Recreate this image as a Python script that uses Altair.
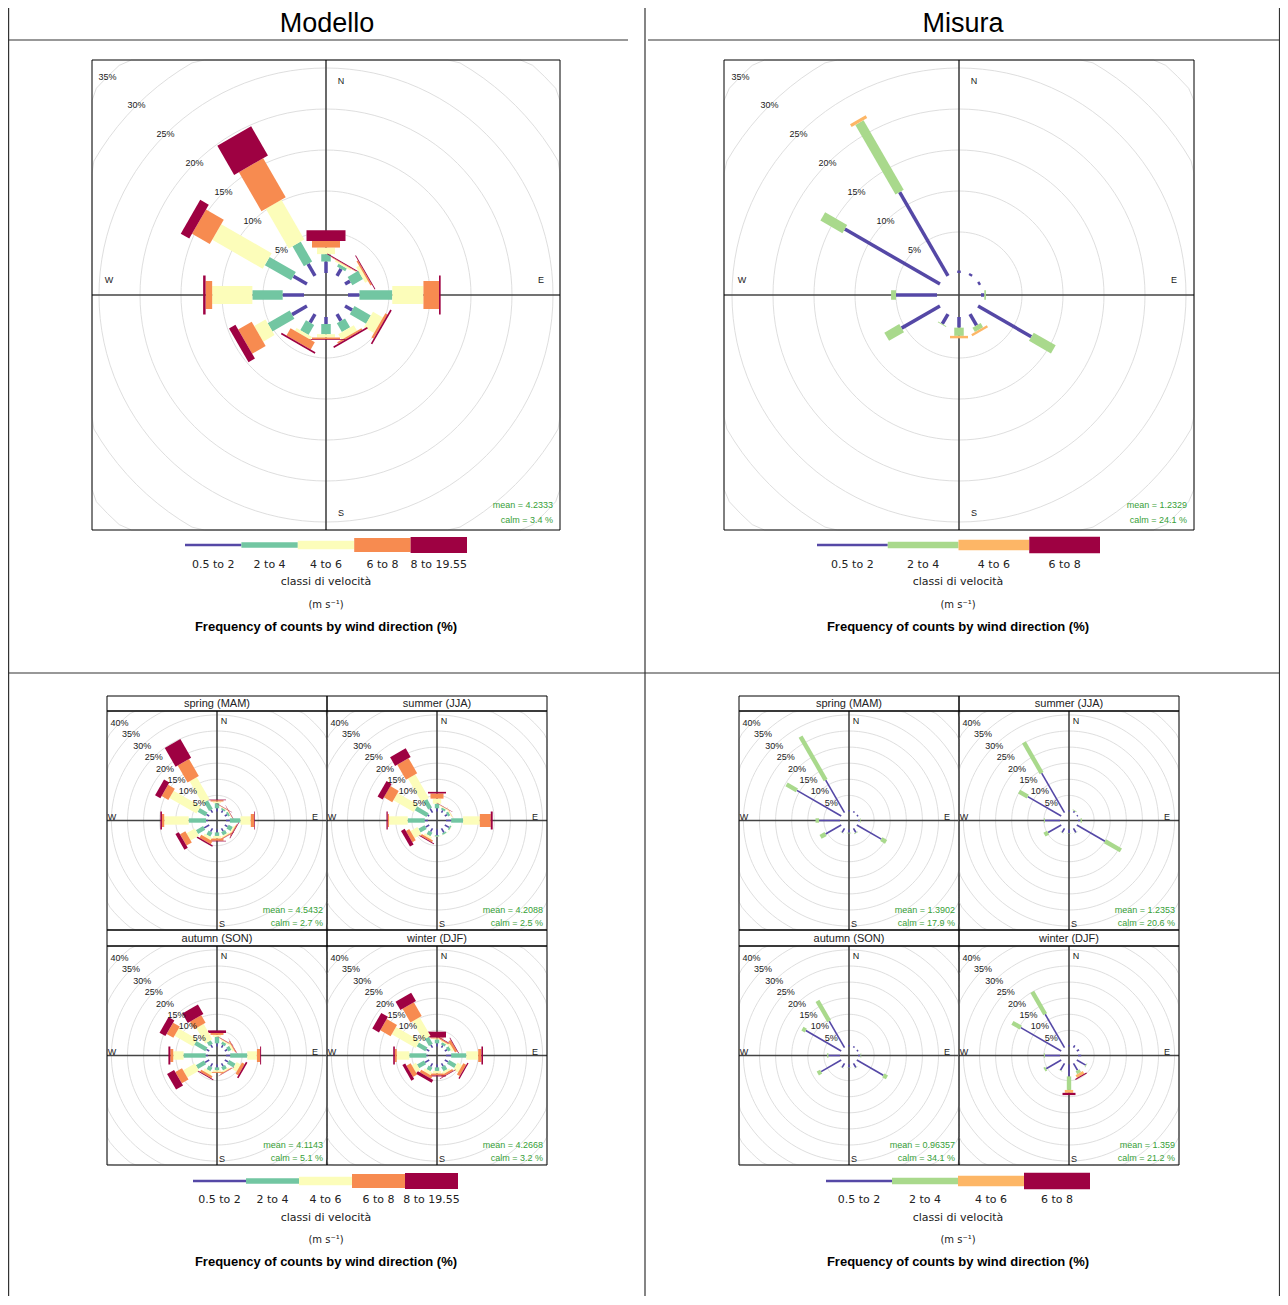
import altair as alt
import pandas as pd

M = 8  # page margin: the chart origin sits at page pixel (8, 8)
FONT = "Liberation Sans"
LFONT = "DejaVu Sans"

# ---------------- data ----------------
DIRS = [0, 30, 60, 90, 120, 150, 180, 210, 240, 270, 300, 330]
MOD_CLASSES = ["0.5 to 2", "2 to 4", "4 to 6", "6 to 8", "8 to 19.55"]
MIS_CLASSES = ["0.5 to 2", "2 to 4", "4 to 6", "6 to 8"]
MOD_COLORS = ["#5548A6", "#72C6A2", "#FCFDBA", "#F78B50", "#9E0142"]
MIS_COLORS = ["#5548A6", "#A9D98C", "#FDB666", "#9E0142"]
SEASONS = ["spring (MAM)", "summer (JJA)", "autumn (SON)", "winter (DJF)"]

# cumulative frequency (%) at the top of each speed class, one row per direction in DIRS
MOD_YEAR = [
    [1.4, 2.3, 3.1, 3.9, 5.2], [1.0, 1.4, 1.6, 1.7, 1.8], [0.7, 2.2, 2.6, 2.8, 2.9],
    [1.4, 5.4, 9.2, 11.1, 11.3], [1.0, 3.3, 4.7, 5.0, 5.2], [0.96, 2.2, 3.0, 3.2, 3.4],
    [0.85, 2.1, 2.5, 2.7, 2.8], [1.2, 2.6, 3.0, 4.0, 4.2], [2.1, 5.2, 6.8, 8.7, 9.6],
    [2.6, 6.3, 11.2, 12.0, 12.3], [1.9, 5.6, 12.7, 15.2, 16.4], [1.7, 4.5, 10.1, 15.6, 19.7],
]
MIS_YEAR = [
    [0.3, 0.3, 0.3, 0.3], [0.3, 0.3, 0.3, 0.3], [0.3, 0.3, 0.3, 0.3],
    [0.4, 0.6, 0.6, 0.6], [7.5, 10.6, 10.6, 10.6], [1.6, 2.2, 2.5, 2.5],
    [1.3, 2.3, 2.6, 2.6], [1.4, 1.5, 1.5, 1.5], [5.4, 7.5, 7.5, 7.5],
    [5.0, 5.6, 5.6, 5.6], [13.4, 16.5, 16.5, 16.5], [11.8, 21.6, 22.0, 22.0],
]
MOD_SPRING = [
    [1.0, 2.6, 3.1, 3.5, 3.7], [0.8, 1.4, 1.6, 1.7, 1.8], [0.8, 1.5, 1.7, 1.8, 1.9],
    [1.2, 4.5, 7.7, 8.8, 9.0], [1.0, 2.5, 3.0, 3.3, 3.5], [1.0, 2.2, 2.7, 2.9, 3.0],
    [0.9, 2.0, 2.8, 3.5, 3.7], [1.2, 2.6, 3.5, 4.6, 5.0], [1.8, 4.4, 7.4, 9.3, 10.5],
    [0.6, 6.0, 13.6, 14.3, 14.8], [1.0, 3.8, 13.5, 15.9, 17.8], [1.0, 4.1, 12.0, 18.1, 24.8],
]
MOD_SUMMER = [
    [1.0, 2.4, 4.0, 5.6, 6.1], [0.8, 1.5, 1.8, 1.9, 2.0], [0.8, 1.6, 1.9, 2.0, 2.0],
    [1.6, 5.3, 10.5, 13.9, 14.5], [1.5, 2.0, 2.1, 2.1, 2.1], [1.5, 2.0, 2.1, 2.1, 2.1],
    [1.8, 2.2, 2.3, 2.3, 2.3], [1.2, 2.5, 3.2, 3.8, 4.1], [1.3, 3.5, 6.0, 7.2, 8.5],
    [1.0, 6.3, 12.1, 12.5, 12.9], [0.6, 4.8, 12.1, 15.1, 16.9], [1.5, 4.5, 13.0, 18.4, 21.5],
]
MOD_AUTUMN = [
    [1.0, 3.0, 3.6, 4.2, 5.0], [0.9, 1.8, 2.2, 2.4, 2.5], [0.9, 2.0, 2.6, 2.9, 3.0],
    [1.3, 6.6, 9.6, 10.6, 10.9], [1.2, 3.5, 5.0, 6.0, 6.5], [1.0, 2.2, 2.7, 2.9, 3.0],
    [0.9, 1.8, 2.3, 2.6, 2.6], [1.2, 2.5, 3.5, 4.2, 4.5], [1.5, 4.4, 8.6, 11.0, 13.5],
    [0.7, 7.6, 10.8, 11.7, 12.3], [1.0, 5.0, 11.7, 14.1, 16.2], [1.0, 2.3, 7.8, 10.5, 13.9],
]
MOD_WINTER = [
    [1.0, 2.2, 2.5, 2.8, 4.6], [0.8, 1.6, 2.0, 2.3, 2.5], [0.8, 1.8, 2.5, 3.3, 3.5],
    [1.6, 6.3, 10.0, 11.0, 11.5], [1.2, 3.8, 5.5, 6.5, 6.9], [1.0, 2.5, 3.2, 3.8, 4.0],
    [0.9, 2.0, 2.8, 3.4, 3.7], [1.2, 2.5, 3.5, 4.4, 5.4], [1.5, 4.0, 5.5, 7.0, 8.0],
    [0.5, 5.8, 9.7, 10.3, 10.8], [1.0, 4.1, 12.7, 16.4, 18.8], [1.0, 3.5, 10.2, 15.1, 18.1],
]
MIS_SPRING = [
    [0.5, 0.5, 0.5, 0.5], [0.5, 0.5, 0.5, 0.5], [0.5, 0.5, 0.5, 0.5],
    [0.6, 0.8, 0.8, 0.8], [8.8, 10.5, 10.5, 10.5], [1.5, 1.7, 1.7, 1.7],
    [1.0, 1.2, 1.2, 1.2], [1.5, 1.6, 1.6, 1.6], [5.6, 7.4, 7.4, 7.4],
    [6.5, 7.6, 7.6, 7.6], [15.9, 19.6, 19.6, 19.6], [11.7, 27.3, 27.3, 27.3],
]
MIS_SUMMER = [
    [0.4, 0.4, 0.4, 0.4], [0.6, 0.8, 0.8, 0.8], [0.4, 0.4, 0.4, 0.4],
    [0.8, 1.2, 1.2, 1.2], [10.1, 15.8, 15.8, 15.8], [1.5, 1.6, 1.6, 1.6],
    [1.2, 1.3, 1.3, 1.3], [1.5, 1.6, 1.6, 1.6], [4.7, 6.0, 6.0, 6.0],
    [4.7, 5.0, 5.0, 5.0], [12.0, 15.1, 15.1, 15.1], [14.2, 25.2, 25.2, 25.2],
]
MIS_AUTUMN = [
    [0.5, 0.5, 0.5, 0.5], [0.5, 0.5, 0.5, 0.5], [0.5, 0.5, 0.5, 0.5],
    [0.8, 1.0, 1.0, 1.0], [9.5, 10.8, 10.8, 10.8], [1.5, 1.6, 1.6, 1.6],
    [1.0, 1.1, 1.1, 1.1], [1.5, 1.6, 1.6, 1.6], [7.2, 8.4, 8.4, 8.4],
    [3.6, 4.0, 4.0, 4.0], [12.7, 13.9, 13.9, 13.9], [9.5, 16.8, 16.8, 16.8],
]
MIS_WINTER = [
    [0.5, 0.5, 0.5, 0.5], [0.8, 0.8, 0.8, 0.8], [0.8, 0.8, 0.8, 0.8],
    [1.0, 1.0, 1.0, 1.0], [3.2, 3.4, 3.4, 3.4], [2.5, 3.5, 4.5, 4.8],
    [3.7, 7.9, 8.8, 9.5], [2.5, 2.6, 2.6, 2.6], [5.4, 6.0, 6.0, 6.0],
    [4.7, 5.0, 5.0, 5.0], [14.5, 17.5, 17.5, 17.5], [12.0, 20.0, 20.0, 20.0],
]
MOD_MEAN = ["4.2333", "4.5432", "4.2088", "4.1143", "4.2668"]
MOD_CALM = ["3.4", "2.7", "2.5", "5.1", "3.2"]
MIS_MEAN = ["1.2329", "1.3902", "1.2353", "0.96357", "1.359"]
MIS_CALM = ["24.1", "17.9", "20.6", "34.1", "21.2"]

# ---------------- styles ----------------
W_BIG = [3.5, 9.5, 18, 28, 39]
W_SMALL = [1.6, 4.4, 8.4, 13, 18]
LEG_MOD = [2.5, 5.5, 8.5, 14, 16]
LEG_MIS = [2.5, 6.5, 10.5, 16.5]
RINGS_BIG = [5, 10, 15, 20, 25, 30, 35]
RINGS_SMALL = [5, 10, 15, 20, 25, 30, 35, 40, 45]
LAB_BIG = [5, 10, 15, 20, 25, 30, 35]
LAB_SMALL = [5, 10, 15, 20, 25, 30, 35, 40]


def one(**kw):
    return pd.DataFrame([kw])


def txt(s, x, y, size=11, bold=False, color="black", align="center", font=FONT):
    return alt.Chart(one(t=s)).mark_text(
        fontSize=size, fontWeight="bold" if bold else "normal", color=color,
        align=align, baseline="middle", font=font
    ).encode(x=alt.value(x - M), y=alt.value(y - M), text="t:N")


def width_scale(widths):
    # piecewise-linear map from class index to stroke width
    return alt.Scale(domain=list(range(len(widths))), range=widths, zero=False, nice=False)


def rose(cum, classes, colors, widths, box, k, off_px, rings, labs, nsew, mean, calm, st, axw):
    x0, x1, y0, y1 = box
    hw = (x1 - x0) / 2 / k
    hh = (y1 - y0) / 2 / k
    off = off_px / k
    xs = alt.Scale(domain=[-hw, hw], range=[x0 - M, x1 - M], clamp=True, nice=False, zero=False)
    ys = alt.Scale(domain=[-hh, hh], range=[y1 - M, y0 - M], clamp=True, nice=False, zero=False)

    def X(f):
        return alt.X(f, scale=xs, axis=None)

    def Y(f):
        return alt.Y(f, scale=ys, axis=None)

    ring_df = pd.DataFrame([{"p": p, "a": a} for p in rings for a in range(0, 361, 3)])
    ring_layer = alt.Chart(ring_df).transform_calculate(
        rx=f"({off}+datum.p)*sin(datum.a*PI/180)",
        ry=f"({off}+datum.p)*cos(datum.a*PI/180)",
    ).mark_line(color="#DADADA", strokeWidth=0.9).encode(
        x=X("rx:Q"), y=Y("ry:Q"), detail="p:N", order="a:Q")

    cross_df = pd.DataFrame({"xa": [-hw, 0], "ya": [0, -hh], "xb": [hw, 0], "yb": [0, hh]})
    cross = alt.Chart(cross_df).mark_rule(color="#444444", strokeWidth=axw).encode(
        x=X("xa:Q"), y=Y("ya:Q"), x2="xb:Q", y2="yb:Q")

    rows = []
    for d, c in zip(DIRS, cum):
        prev = 0.0
        for ci, (cls, v) in enumerate(zip(classes, c)):
            if v > prev:
                rows.append({"dir": d, "cls": cls, "ci": ci, "lo": prev, "hi": v})
                prev = v
    paddles = alt.Chart(pd.DataFrame(rows)).transform_calculate(
        xa=f"({off}+datum.lo)*sin(datum.dir*PI/180)",
        ya=f"({off}+datum.lo)*cos(datum.dir*PI/180)",
        xb=f"({off}+datum.hi)*sin(datum.dir*PI/180)",
        yb=f"({off}+datum.hi)*cos(datum.dir*PI/180)",
    ).mark_rule(strokeCap="butt").encode(
        x=X("xa:Q"), y=Y("ya:Q"), x2="xb:Q", y2="yb:Q",
        color=alt.Color("cls:N", scale=alt.Scale(domain=classes, range=colors), legend=None),
        strokeWidth=alt.StrokeWidth("ci:Q", scale=width_scale(widths), legend=None),
    )

    lab_df = pd.DataFrame({"p": labs, "t": [f"{p}%" for p in labs]})
    ring_labels = alt.Chart(lab_df).transform_calculate(
        lx=f"-({off}+datum.p)*0.7071", ly=f"({off}+datum.p)*0.7071"
    ).mark_text(fontSize=9, font=FONT, color="#1A1A1A").encode(
        x=X("lx:Q"), y=Y("ly:Q"), text="t:N")

    nsew_df = pd.DataFrame({"t": ["N", "E", "S", "W"],
                            "nx": [v[0] / k for v in nsew], "ny": [v[1] / k for v in nsew]})
    compass = alt.Chart(nsew_df).mark_text(fontSize=9, font=FONT, color="#1A1A1A").encode(
        x=X("nx:Q"), y=Y("ny:Q"), text="t:N")

    green = "#37A037"
    s1 = txt(f"mean = {mean}", x1 - st[0], y1 - st[1], size=9, color=green, align="right")
    s2 = txt(f"calm = {calm} %", x1 - st[0], y1 - st[2], size=9, color=green, align="right")

    frame = alt.Chart(one(a=1)).mark_rect(fillOpacity=0, stroke="black", strokeWidth=1).encode(
        x=alt.value(x0 - M), x2=alt.value(x1 - M), y=alt.value(y0 - M), y2=alt.value(y1 - M))

    return alt.layer(ring_layer, cross, paddles, ring_labels, compass, s1, s2, frame)


def legend(classes, colors, heights, x0, x1, ybar, ylab, cx, ycl, yun, yti):
    n = len(classes)
    df = pd.DataFrame({"cls": classes, "i": list(range(n))})
    xs = alt.Scale(domain=[0, n], range=[x0 - M, x1 - M], nice=False, zero=False)
    base = alt.Chart(df).transform_calculate(i2="datum.i+1", im="datum.i+0.5")
    bars = base.mark_rule(strokeCap="butt").encode(
        x=alt.X("i:Q", scale=xs, axis=None), x2="i2:Q", y=alt.value(ybar - M),
        color=alt.Color("cls:N", scale=alt.Scale(domain=classes, range=colors), legend=None),
        strokeWidth=alt.StrokeWidth("i:Q", scale=width_scale(heights), legend=None),
    )
    labels = base.mark_text(fontSize=11, font=LFONT, color="#222").encode(
        x=alt.X("im:Q", scale=xs, axis=None), y=alt.value(ylab - M), text="cls:N")
    return alt.layer(
        alt.layer(bars, labels),
        txt("classi di velocità", cx, ycl, size=11, font=LFONT, color="#222"),
        txt("(m s⁻¹)", cx, yun, size=10, font=LFONT, color="#222"),
        txt("Frequency of counts by wind direction (%)", cx, yti, size=13, bold=True),
    )


layers = []


def hline(y, xa, xb, w=1.2):
    return alt.Chart(one(a=1)).mark_rule(color="#333", strokeWidth=w).encode(
        x=alt.value(xa - M), x2=alt.value(xb - M), y=alt.value(y - M))


def vline(x, ya, yb, w=1.2):
    return alt.Chart(one(a=1)).mark_rule(color="#333", strokeWidth=w).encode(
        x=alt.value(x - M), y=alt.value(ya - M), y2=alt.value(yb - M))


layers += [
    vline(8.6, 8, 1296), vline(645, 8, 1296), vline(1279.5, 8, 1296),
    hline(40, 8, 628), hline(40, 648, 1280), hline(673, 8, 1280),
    txt("Modello", 327, 24, size=27), txt("Misura", 963, 24, size=27),
]

BIG_NSEW = [(15, 214), (215, 15), (15, -218), (-217, 15)]
SMALL_NSEW = [(7, 100), (98, 4), (5, -103), (-105, 4)]

layers.append(rose(MOD_YEAR, MOD_CLASSES, MOD_COLORS, W_BIG, (92, 560, 60, 530), 8.2, 22,
                   RINGS_BIG, LAB_BIG, BIG_NSEW, MOD_MEAN[0], MOD_CALM[0], (7, 25, 10), 1.6))
layers.append(rose(MIS_YEAR, MIS_CLASSES, MIS_COLORS, W_BIG[:4], (724, 1194, 60, 530), 8.2, 22,
                   RINGS_BIG, LAB_BIG, BIG_NSEW, MIS_MEAN[0], MIS_CALM[0], (7, 25, 10), 1.6))

layers.append(legend(MOD_CLASSES, MOD_COLORS, LEG_MOD, 185, 467, 545, 565, 326, 582, 605, 627))
layers.append(legend(MIS_CLASSES, MIS_COLORS, LEG_MIS, 817, 1100, 545, 565, 958, 582, 605, 627))

ROWS = [(711, 930), (946, 1165)]
STRIPS = [(696, 711), (930, 946)]
MOD_COLS = [(107, 327), (327, 547)]
MIS_COLS = [(739, 959), (959, 1179)]
MOD_SEAS = [MOD_SPRING, MOD_SUMMER, MOD_AUTUMN, MOD_WINTER]
MIS_SEAS = [MIS_SPRING, MIS_SUMMER, MIS_AUTUMN, MIS_WINTER]

for cols, seas, classes, colors, means, calms in [
    (MOD_COLS, MOD_SEAS, MOD_CLASSES, MOD_COLORS, MOD_MEAN, MOD_CALM),
    (MIS_COLS, MIS_SEAS, MIS_CLASSES, MIS_COLORS, MIS_MEAN, MIS_CALM),
]:
    for idx in range(4):
        r, c = divmod(idx, 2)
        x0, x1 = cols[c]
        y0, y1 = ROWS[r]
        sy0, sy1 = STRIPS[r]
        layers.append(rose(seas[idx], classes, colors, W_SMALL[:len(classes)], (x0, x1, y0, y1),
                           3.22, 9, RINGS_SMALL, LAB_SMALL, SMALL_NSEW,
                           means[idx + 1], calms[idx + 1], (4, 20, 7), 1.6))
        layers.append(alt.Chart(one(a=1)).mark_rect(fillOpacity=0, stroke="black", strokeWidth=1).encode(
            x=alt.value(x0 - M), x2=alt.value(x1 - M), y=alt.value(sy0 - M), y2=alt.value(sy1 - M)))
        layers.append(txt(SEASONS[idx], (x0 + x1) / 2, (sy0 + sy1) / 2 + 0.5, size=11, color="#222"))

layers.append(legend(MOD_CLASSES, MOD_COLORS, LEG_MOD, 193, 458, 1181, 1200, 326, 1218, 1240, 1262))
layers.append(legend(MIS_CLASSES, MIS_COLORS, LEG_MIS, 826, 1090, 1181, 1200, 958, 1218, 1240, 1262))

chart = alt.layer(*layers).resolve_scale(
    x="independent", y="independent", color="independent", strokeWidth="independent"
).properties(
    width=1272, height=1288, autosize=alt.AutoSizeParams(type="none"), padding=0
).configure_view(stroke=None)

chart.save("out.html", embed_options={"renderer": "svg", "actions": False})
